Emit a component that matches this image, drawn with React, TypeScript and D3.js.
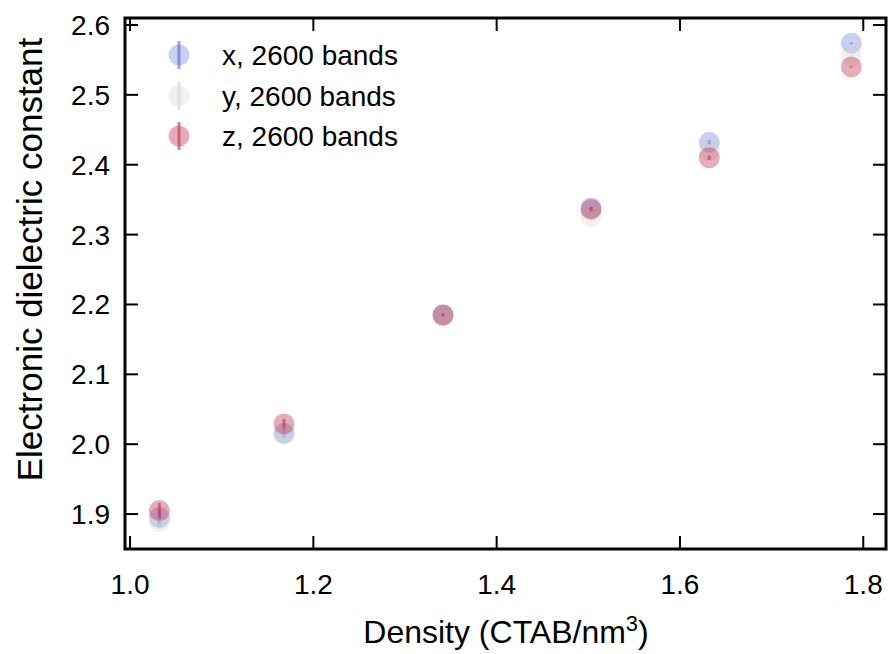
import React, { useRef, useEffect } from 'react';
import * as d3 from 'd3';

const density = [1.032, 1.168, 1.3415, 1.503, 1.632, 1.787];
const epsX = [1.895, 2.0155, 2.185, 2.338, 2.432, 2.574];
const epsY = [1.889, 2.014, 2.182, 2.326, 2.421, 2.556];
const epsZ = [1.905, 2.029, 2.185, 2.336, 2.410, 2.540];
const errX = [0.011, 0.006, 0.002, 0.002, 0.003, 0.001];
const errY = [0.010, 0.006, 0.002, 0.002, 0.003, 0.001];
const errZ = [0.011, 0.007, 0.002, 0.003, 0.003, 0.001];
const seriesNames = ['x, 2600 bands', 'y, 2600 bands', 'z, 2600 bands'];
const xTicks = [1.0, 1.2, 1.4, 1.6, 1.8];
const yTicks = [1.9, 2.0, 2.1, 2.2, 2.3, 2.4, 2.5, 2.6];

const W = 888;
const H = 654;
const font = '"Liberation Sans", Arial, sans-serif';

const App = () => {
  const svgRef = useRef<SVGSVGElement>(null);

  useEffect(() => {
    const svg = d3.select(svgRef.current);
    svg.selectAll('*').remove();

    const left = 125, right = 886, top = 18, bottom = 549;
    const x = d3.scaleLinear().domain([0.9945, 1.8248]).range([left, right]);
    const y = d3.scaleLinear().domain([1.85, 2.61]).range([bottom, top]);

    const series = [
      { vals: epsX, errs: errX, color: '#4a5fc9', fa: 0.3, ea: 0.55 },
      { vals: epsY, errs: errY, color: '#cccccc', fa: 0.3, ea: 0.5 },
      { vals: epsZ, errs: errZ, color: '#bf3050', fa: 0.4, ea: 0.6 },
    ];

    const plot = svg.append('g');
    series.forEach((s) => {
      const g = plot.append('g');
      g.selectAll('circle')
        .data(density)
        .enter()
        .append('circle')
        .attr('cx', (d) => x(d))
        .attr('cy', (d, i) => y(s.vals[i]))
        .attr('r', 10.5)
        .attr('fill', s.color)
        .attr('fill-opacity', s.fa);
      g.selectAll('line')
        .data(density)
        .enter()
        .append('line')
        .attr('x1', (d) => x(d))
        .attr('x2', (d) => x(d))
        .attr('y1', (d, i) => y(s.vals[i] - s.errs[i]))
        .attr('y2', (d, i) => y(s.vals[i] + s.errs[i]))
        .attr('stroke', s.color)
        .attr('stroke-opacity', s.ea)
        .attr('stroke-width', 3);
    });

    // ticks (inward, on all four sides)
    const ticks = svg.append('g').attr('stroke', '#000').attr('stroke-width', 2);
    xTicks.forEach((t) => {
      ticks.append('line').attr('x1', x(t)).attr('x2', x(t)).attr('y1', bottom).attr('y2', bottom - 13);
      ticks.append('line').attr('x1', x(t)).attr('x2', x(t)).attr('y1', top).attr('y2', top + 13);
    });
    yTicks.forEach((t) => {
      ticks.append('line').attr('x1', left).attr('x2', left + 13).attr('y1', y(t)).attr('y2', y(t));
      ticks.append('line').attr('x1', right).attr('x2', right - 13).attr('y1', y(t)).attr('y2', y(t));
    });

    svg.append('rect')
      .attr('x', left).attr('y', top)
      .attr('width', right - left).attr('height', bottom - top)
      .attr('fill', 'none').attr('stroke', '#000').attr('stroke-width', 3);

    const labels = svg.append('g').attr('font-family', font).attr('font-size', 28).attr('fill', '#000');
    xTicks.forEach((t) => {
      labels.append('text').attr('x', x(t)).attr('y', 594).attr('text-anchor', 'middle').text(d3.format('.1f')(t));
    });
    yTicks.forEach((t) => {
      labels.append('text').attr('x', 110).attr('y', y(t) + 10).attr('text-anchor', 'end').text(d3.format('.1f')(t));
    });

    const xl = labels.append('text').attr('x', 506).attr('y', 643).attr('text-anchor', 'middle').attr('font-size', 32);
    xl.append('tspan').text('Density (CTAB/nm');
    xl.append('tspan').attr('dy', -12).attr('font-size', 22).text('3');
    xl.append('tspan').attr('dy', 12).text(')');

    labels.append('text')
      .attr('transform', `translate(42,${(top + bottom) / 2 - 24}) rotate(-90)`)
      .attr('text-anchor', 'middle')
      .attr('font-size', 35)
      .text('Electronic dielectric constant');

    // legend
    const legend = svg.append('g');
    const rows = [55, 96, 136];
    series.forEach((s, i) => {
      const g = legend.append('g').attr('transform', `translate(179,${rows[i]})`);
      g.append('circle').attr('r', 10.5).attr('fill', s.color).attr('fill-opacity', s.fa);
      g.append('line').attr('y1', -14).attr('y2', 14)
        .attr('stroke', s.color).attr('stroke-opacity', s.ea).attr('stroke-width', 3);
      g.append('text').attr('x', 43).attr('y', 10)
        .attr('font-family', font).attr('font-size', 28).text(seriesNames[i]);
    });
  }, []);

  return (
    <svg
      ref={svgRef}
      width={W}
      height={H}
      style={{ position: 'absolute', left: 0, top: 0, background: '#fff' }}
    />
  );
};

export default App;
